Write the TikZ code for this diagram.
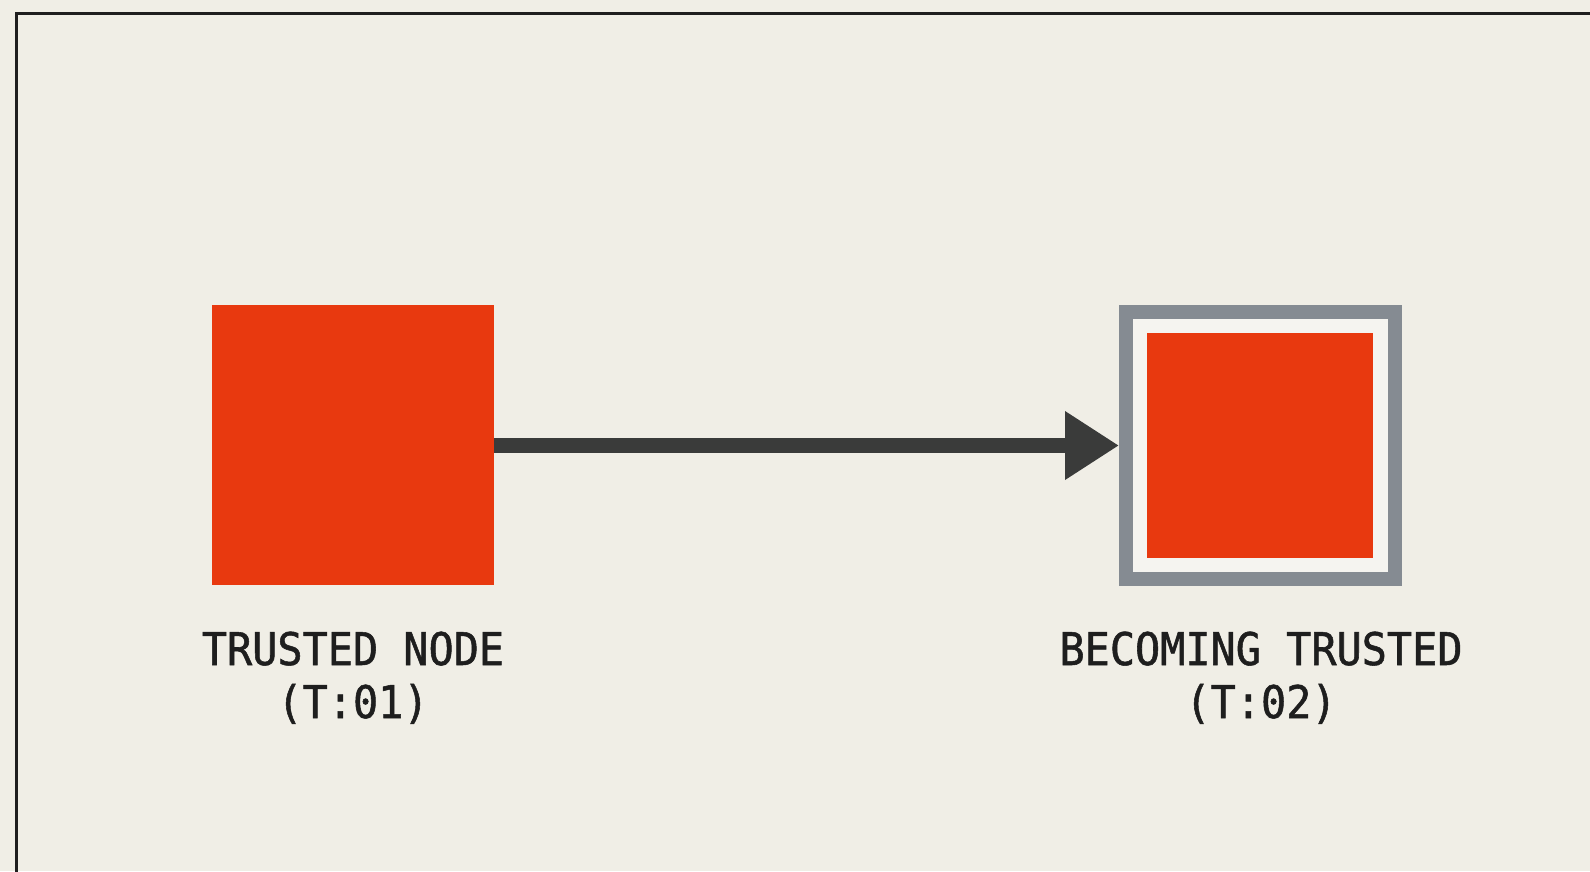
\documentclass[tikz,border=0pt]{standalone}
\usepackage{fontspec}
\usetikzlibrary{arrows.meta}
\newfontfamily\labelfont{DejaVu Sans Mono}[FakeStretch=0.93,FakeBold=1.2]
\definecolor{bgc}{HTML}{F0EEE6}
\definecolor{redc}{HTML}{E8390F}
\definecolor{grayc}{HTML}{858B92}
\definecolor{gapc}{HTML}{F5F4F0}
\definecolor{arrowc}{HTML}{3A3B3A}
\definecolor{textc}{HTML}{1E1E1E}
\definecolor{framec}{HTML}{1F1F1F}
\tikzset{
  redbox/.style={fill=redc, draw=none, inner sep=0pt, outer sep=0pt},
  graybox/.style={fill=gapc, draw=grayc, line width=14pt, inner sep=0pt},
  lbl/.style={text=textc, inner sep=0pt, anchor=base, font=\labelfont\fontsize{45}{53}\selectfont},
  conn/.style={draw=arrowc, line width=15pt, -{Triangle[length=54pt,width=65pt]}}
}
\begin{document}
\begin{tikzpicture}[x=1pt,y=-1pt]
\useasboundingbox (0,0) rectangle (1590,871);
\fill[bgc] (0,0) rectangle (1590,871);
\begin{scope}
\clip (0,0) rectangle (1590,871);
\draw[framec, line width=3.5pt] (16.5,1000) -- (16.5,13.5) -- (1700,13.5);
\end{scope}
\node[redbox, minimum width=282pt, minimum height=280pt] (n1) at (353,445) {};
\node[graybox, minimum width=269pt, minimum height=267pt] (n2) at (1260.5,445.5) {};
\node[redbox, minimum width=226pt, minimum height=225pt] (n2in) at (1260,445.5) {};
\draw[conn] (n1.east |- 0,445.5) -- (n2.west |- 0,445.5);
\node[lbl] (l1a) at (353,665) {TRUSTED NODE};
\node[lbl] (l1b) at (353,718) {(T:01)};
\node[lbl] (l2a) at (1261,665) {BECOMING TRUSTED};
\node[lbl] (l2b) at (1261,718) {(T:02)};
\end{tikzpicture}
\end{document}
